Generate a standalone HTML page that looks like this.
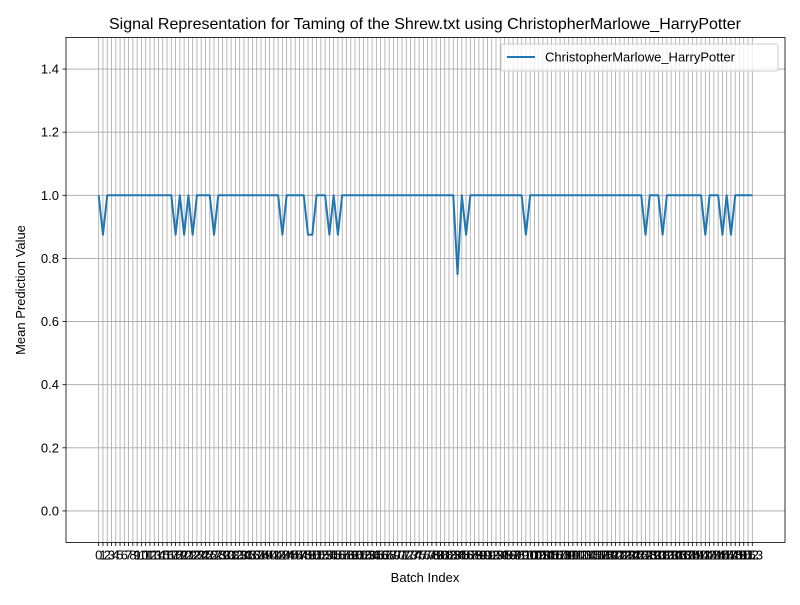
<!DOCTYPE html>
<html><head><meta charset="utf-8"><style>
body{margin:0;background:#fff;}
text{font-family:"Liberation Sans","DejaVu Sans",sans-serif;fill:#000;}
</style></head><body>
<svg id="chart" width="800" height="600" viewBox="0 0 800 600" xmlns="http://www.w3.org/2000/svg">
<rect width="800" height="600" fill="#fff"/>
<g id="grid"></g>
<g id="axes"></g>
<path id="line" fill="none" stroke="#1f77b4" stroke-width="2" stroke-linejoin="round"/>
<rect x="66" y="37.5" width="719" height="505" fill="none" stroke="#000" stroke-width="0.8"/>
<text x="425" y="29" font-size="16" text-anchor="middle">Signal Representation for Taming of the Shrew.txt using ChristopherMarlowe_HarryPotter</text>
<text x="425" y="582" font-size="13" text-anchor="middle">Batch Index</text>
<text x="25" y="290" font-size="13" text-anchor="middle" transform="rotate(-90 25 290)">Mean Prediction Value</text>
<g>
<rect x="501" y="44" width="277" height="27" fill="#fff" fill-opacity="0.8" stroke="#ccc" rx="2"/>
<line x1="507" y1="57" x2="535" y2="57" stroke="#1f77b4" stroke-width="2"/>
<text x="545" y="61.5" font-size="13">ChristopherMarlowe_HarryPotter</text>
</g>
</svg>
<script>
const n = 154;
const dipIdx = [1,18,20,22,27,43,49,50,54,56,84,86,100,128,132,142,146,148];
const dipVal = [0.875,0.875,0.875,0.875,0.875,0.875,0.875,0.875,0.875,0.875,0.75,0.875,0.875,0.875,0.875,0.875,0.875,0.875];
const yTicks = [0.0,0.2,0.4,0.6,0.8,1.0,1.2,1.4];
const values = [];
for (let i=0;i<n;i++) values.push(1.0);
dipIdx.forEach((d,k)=>{values[d]=dipVal[k];});

const L=66,R=785,T=37.5,B=542.5;
const xmin=-7.65,xmax=160.65,ymin=-0.1,ymax=1.5;
const sx=v=>L+(v-xmin)/(xmax-xmin)*(R-L);
const sy=v=>B-(v-ymin)/(ymax-ymin)*(B-T);
const NS="http://www.w3.org/2000/svg";
const grid=document.getElementById('grid'), axes=document.getElementById('axes');
function mk(tag,attrs,parent){const e=document.createElementNS(NS,tag);for(const k in attrs)e.setAttribute(k,attrs[k]);parent.appendChild(e);return e;}
for(let i=0;i<n;i++){
  const x=sx(i);
  const g=mk('line',{x1:x,x2:x,y1:T,y2:B,stroke:'#a8a8a8','stroke-width':0.8},grid);
  
  
  mk('line',{x1:x,x2:x,y1:B,y2:B+3.5,stroke:'#000','stroke-width':0.8},axes);
  const t=mk('text',{x:x,y:B+17,'font-size':13,'text-anchor':'middle'},axes);
  t.textContent=String(i);
  
  
}
yTicks.forEach(v=>{
  const y=sy(v);
  const g=mk('line',{x1:L,x2:R,y1:y,y2:y,stroke:'#a8a8a8','stroke-width':0.8},grid);
  
  
  mk('line',{x1:L-3.5,x2:L,y1:y,y2:y,stroke:'#000','stroke-width':0.8},axes);
  const t=mk('text',{x:L-7,y:y+4.5,'font-size':13,'text-anchor':'end'},axes);
  t.textContent=v.toFixed(1);
  
  
});
document.getElementById('line').setAttribute('d',values.map((v,i)=>(i?'L':'M')+sx(i).toFixed(2)+' '+sy(v).toFixed(2)).join(''));
</script>
</body></html>
